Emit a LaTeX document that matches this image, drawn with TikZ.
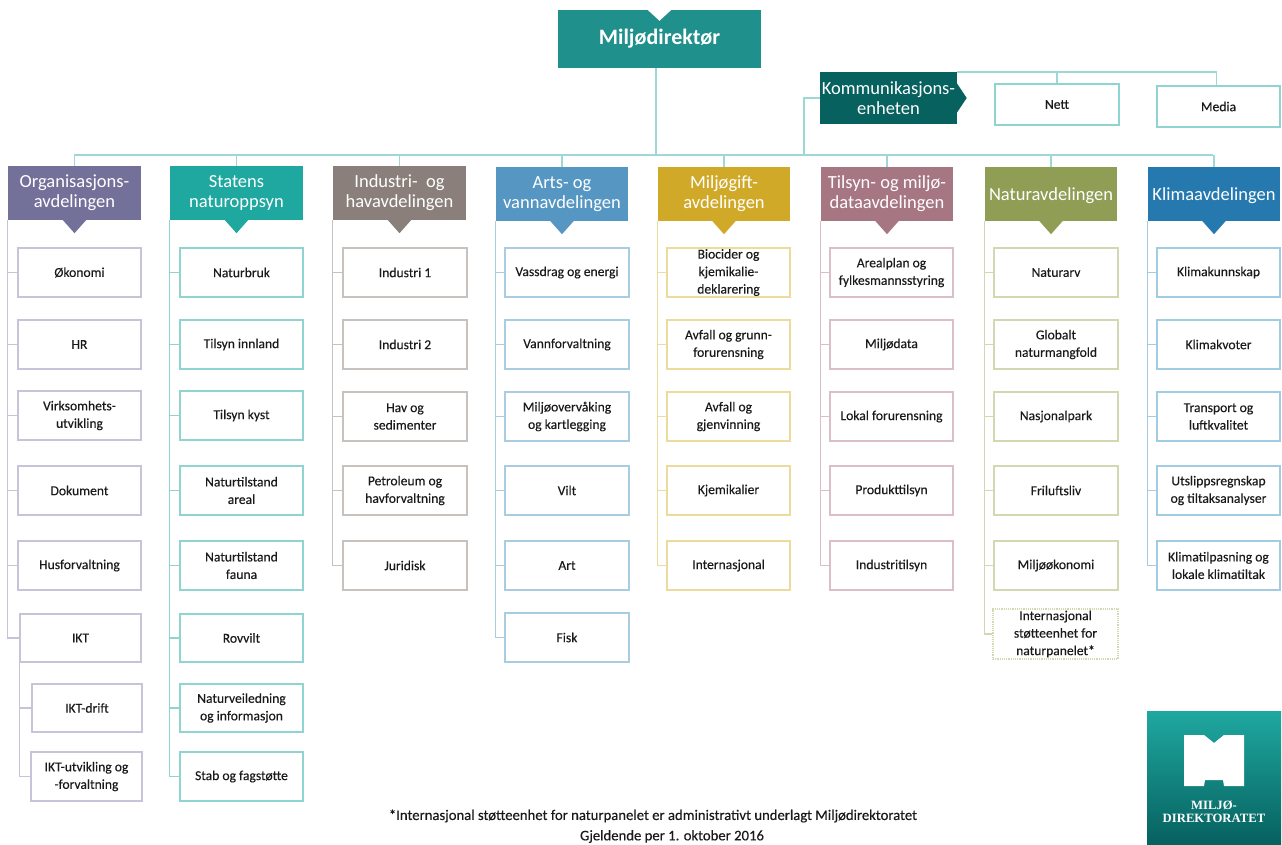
\documentclass[tikz,border=0pt]{standalone}
\usepackage{fontspec}
\setmainfont{Carlito}
\newfontfamily\bodyfont[FakeBold=0.25]{Carlito}
\newfontfamily\logofont{Liberation Serif}
\definecolor{h1}{HTML}{73719A}\definecolor{l1}{HTML}{C6C4D8}
\definecolor{h2}{HTML}{1FA8A0}\definecolor{l2}{HTML}{8FD4D0}
\definecolor{h3}{HTML}{8A7F7B}\definecolor{l3}{HTML}{C8C2BF}
\definecolor{h4}{HTML}{5596C3}\definecolor{l4}{HTML}{A8CDE0}
\definecolor{h5}{HTML}{D1A928}\definecolor{l5}{HTML}{ECDC9C}
\definecolor{h6}{HTML}{A67683}\definecolor{l6}{HTML}{DABFC7}
\definecolor{h7}{HTML}{8F9D55}\definecolor{l7}{HTML}{D2D8B2}
\definecolor{h8}{HTML}{2579AE}\definecolor{l8}{HTML}{A2CCE2}
\definecolor{conn}{HTML}{9ED8D6}
\definecolor{dirc}{HTML}{1F908C}
\definecolor{komc}{HTML}{06615F}
\definecolor{ink}{HTML}{1A1A1A}
\tikzset{
 orgbox/.style={draw=#1,fill=white,line width=1.2pt,inner sep=0pt,align=center,text=ink,font=\bodyfont\fontsize{13.6}{17.5}\selectfont},
 orghead/.style={fill=#1,inner sep=0pt,align=center,text=white,font=\fontsize{18.5}{20}\selectfont},
 spine/.style={draw=#1,line width=1.3pt},
 link/.style={draw=conn,line width=1.4pt},
 foot/.style={inner sep=0pt,text=ink,font=\bodyfont\fontsize{14.7}{17}\selectfont}
}
% \bx[options]{name}{x0}{y0}{x1}{y1}{text}
\newcommand{\bx}[7][]{%
 \pgfmathsetmacro\bxcx{(#3+#5)/2}\pgfmathsetmacro\bxcy{(#4+#6)/2}%
 \pgfmathsetmacro\bxw{#5-#3}\pgfmathsetmacro\bxh{#6-#4}%
 \node[minimum width=\bxw pt,minimum height=\bxh pt,#1] (#2) at (\bxcx,\bxcy) {#7};}
% \hd{n}: header with its pointer
\newcommand{\hd}[6]{%
 \bx[orghead=h#1]{h#1}{#2}{#3}{#4}{#5}{#6}
 \fill[h#1] (h#1.south) ++(-12,-0.5) -- ++(12,13.5) -- ++(12,-13.5) -- cycle;
 \draw[link] (h#1.north) -- (h#1.north |- barL);}
\begin{document}
\begin{tikzpicture}[x=1pt,y=-1pt]
\useasboundingbox[fill=white] (0,0) rectangle (1282,845);
\coordinate (barL) at (74,155);
\coordinate (barR) at (1213,155);
\coordinate (komdrop) at (804,155);
\draw[link] (barL) -- (barR);

% director
\bx[fill=dirc,inner sep=0pt,text=white,font=\fontsize{22}{24}\selectfont\bfseries]{dir}{558}{10}{761}{68}{Miljødirektør}
\fill[white] (dir.north) ++(-13,-1) -- ++(13,12) -- ++(13,-12) -- cycle;
\draw[link] ([xshift=-3.5pt]dir.south) -- ([xshift=-3.5pt]dir.south |- barL);

% communication unit
\bx[orgbox=l2]{nett}{995}{84}{1119}{125}{Nett}
\bx[orgbox=l2]{media}{1157}{86}{1280}{127}{Media}
\draw[link] (957,72) -| ([xshift=-2pt]media.north);
\draw[link] (nett.north) -- (nett.north |- 0,72);
\bx[fill=komc,inner sep=0pt,align=center,text=white,font=\fontsize{18.5}{20}\selectfont]{kom}{820}{72}{957}{124}{Kommunikasjons-\\enheten}
\fill[komc] (kom.east) ++(-0.5,-15) -- ++(10,15) -- ++(-10,15) -- cycle;
\draw[link] (kom.west) -| (komdrop);

% headers
\hd{1}{8}{166}{141}{220}{Organisasjons-\\avdelingen}
\hd{2}{170}{166}{303}{220}{Statens\\naturoppsyn}
\hd{3}{333}{166}{466}{220}{Industri-\ \ og\\havavdelingen}
\hd{4}{496}{167}{628}{221}{Arts- og\\vannavdelingen}
\hd{5}{658}{167}{790}{221}{Miljøgift-\\avdelingen}
\hd{6}{821}{167}{953}{221}{Tilsyn- og miljø-\\dataavdelingen}
\hd{7}{985}{167}{1117}{221}{\rule{0pt}{16pt}Naturavdelingen}
\hd{8}{1148}{167}{1280}{221}{\rule{0pt}{16pt}Klimaavdelingen}

% column 1
\bx[orgbox=l1]{a1}{18}{248}{141}{297}{Økonomi}
\bx[orgbox=l1]{a2}{18}{320}{141}{369}{HR}
\bx[orgbox=l1]{a3}{18}{391}{141}{440}{Virksomhets-\\utvikling}
\bx[orgbox=l1]{a4}{18}{466}{141}{515}{Dokument}
\bx[orgbox=l1]{a5}{18}{541}{141}{590}{Husforvaltning}
\bx[orgbox=l1]{a6}{20}{614}{141}{662}{IKT}
\bx[orgbox=l1]{a7}{32}{684}{142}{732}{IKT-drift}
\bx[orgbox=l1]{a8}{31}{752}{142}{801}{IKT-utvikling og\\-forvaltning}
\foreach \n in {a1,a2,a3,a4,a5,a6} \draw[spine=l1] (h1.south west) |- (\n.west);
\foreach \n in {a7,a8} \draw[spine=l1] (a6.south west) |- (\n.west);

% column 2
\bx[orgbox=l2]{b1}{180}{248}{303}{297}{Naturbruk}
\bx[orgbox=l2]{b2}{180}{320}{303}{369}{Tilsyn innland}
\bx[orgbox=l2]{b3}{180}{391}{303}{440}{Tilsyn kyst}
\bx[orgbox=l2]{b4}{180}{466}{303}{515}{Naturtilstand\\areal}
\bx[orgbox=l2]{b5}{180}{541}{303}{590}{Naturtilstand\\fauna}
\bx[orgbox=l2]{b6}{180}{614}{303}{662}{Rovvilt}
\bx[orgbox=l2]{b7}{180}{684}{303}{732}{Naturveiledning\\og informasjon}
\bx[orgbox=l2]{b8}{180}{752}{303}{801}{Stab og fagstøtte}
\foreach \n in {b1,b2,b3,b4,b5,b6,b7,b8} \draw[spine=l2] (h2.south west) |- (\n.west);

% column 3
\bx[orgbox=l3]{c1}{343}{248}{467}{297}{Industri 1}
\bx[orgbox=l3]{c2}{343}{320}{467}{369}{Industri 2}
\bx[orgbox=l3]{c3}{343}{392}{467}{441}{Hav og\\sedimenter}
\bx[orgbox=l3]{c4}{343}{466}{467}{515}{Petroleum og\\havforvaltning}
\bx[orgbox=l3]{c5}{343}{541}{467}{590}{Juridisk}
\foreach \n in {c1,c2,c3,c4,c5} \draw[spine=l3] (h3.south west) |- (\n.west);

% column 4
\bx[orgbox=l4]{d1}{505}{248}{629}{297}{Vassdrag og energi}
\bx[orgbox=l4]{d2}{505}{320}{629}{369}{Vannforvaltning}
\bx[orgbox=l4]{d3}{505}{392}{629}{441}{Miljøovervåking\\og kartlegging}
\bx[orgbox=l4]{d4}{505}{466}{629}{515}{Vilt}
\bx[orgbox=l4]{d5}{505}{541}{629}{590}{Art}
\bx[orgbox=l4]{d6}{505}{613}{629}{662}{Fisk}
\foreach \n in {d1,d2,d3,d4,d5,d6} \draw[spine=l4] (h4.south west) |- (\n.west);

% column 5
\bx[orgbox=l5]{e1}{667}{248}{790}{297}{Biocider og\\kjemikalie-\\deklarering}
\bx[orgbox=l5]{e2}{667}{320}{790}{369}{Avfall og grunn-\\forurensning}
\bx[orgbox=l5]{e3}{667}{392}{790}{441}{Avfall og\\gjenvinning}
\bx[orgbox=l5]{e4}{667}{466}{790}{515}{Kjemikalier}
\bx[orgbox=l5]{e5}{667}{541}{790}{590}{Internasjonal}
\foreach \n in {e1,e2,e3,e4,e5} \draw[spine=l5] (h5.south west) |- (\n.west);

% column 6
\bx[orgbox=l6]{f1}{830}{248}{953}{297}{Arealplan og\\fylkesmannsstyring}
\bx[orgbox=l6]{f2}{830}{320}{953}{369}{Miljødata}
\bx[orgbox=l6]{f3}{830}{392}{953}{441}{Lokal forurensning}
\bx[orgbox=l6]{f4}{830}{466}{953}{515}{Produkttilsyn}
\bx[orgbox=l6]{f5}{830}{541}{953}{590}{Industritilsyn}
\foreach \n in {f1,f2,f3,f4,f5} \draw[spine=l6] (h6.south west) |- (\n.west);

% column 7
\bx[orgbox=l7]{g1}{994}{248}{1118}{297}{Naturarv}
\bx[orgbox=l7]{g2}{994}{320}{1118}{369}{Globalt\\naturmangfold}
\bx[orgbox=l7]{g3}{994}{392}{1118}{441}{Nasjonalpark}
\bx[orgbox=l7]{g4}{994}{466}{1118}{515}{Friluftsliv}
\bx[orgbox=l7]{g5}{994}{541}{1118}{590}{Miljøøkonomi}
\bx[orgbox=l7,densely dotted]{g6}{993}{609}{1118}{659}{Internasjonal\\støtteenhet for\\naturpanelet*}
\foreach \n in {g1,g2,g3,g4,g5,g6} \draw[spine=l7] (h7.south west) |- (\n.west);

% column 8
\bx[orgbox=l8]{k1}{1157}{248}{1280}{297}{Klimakunnskap}
\bx[orgbox=l8]{k2}{1157}{320}{1280}{369}{Klimakvoter}
\bx[orgbox=l8]{k3}{1157}{392}{1280}{441}{Transport og\\luftkvalitet}
\bx[orgbox=l8]{k4}{1157}{466}{1280}{515}{Utslippsregnskap\\og tiltaksanalyser}
\bx[orgbox=l8]{k5}{1157}{541}{1280}{590}{Klimatilpasning og\\lokale klimatiltak}
\foreach \n in {k1,k2,k3,k4,k5} \draw[spine=l8] (h8.south west) |- (\n.west);

% footnotes
\node[foot] (fn1) at (653,816) {*Internasjonal støtteenhet for naturpanelet er administrativt underlagt Miljødirektoratet};
\node[foot] (fn2) at (672,836.5) {Gjeldende per 1. oktober 2016};

% logo
\bx[top color=h2,bottom color=komc,inner sep=0pt]{logo}{1147}{711}{1281}{844}{}
\fill[white] (1184,735) -- (1204,735) -- (1214,743) -- (1224,735) -- (1244,735) -- (1244,786) -- (1224,786) -- (1223,780) -- (1205,780) -- (1204,786) -- (1184,786) -- cycle;
\node[inner sep=0pt,align=center,text=white,font=\logofont\fontsize{12.7}{13.5}\selectfont\bfseries] (logotext) at (1214,811.5) {MILJØ-\\DIREKTORATET};
\end{tikzpicture}
\end{document}
